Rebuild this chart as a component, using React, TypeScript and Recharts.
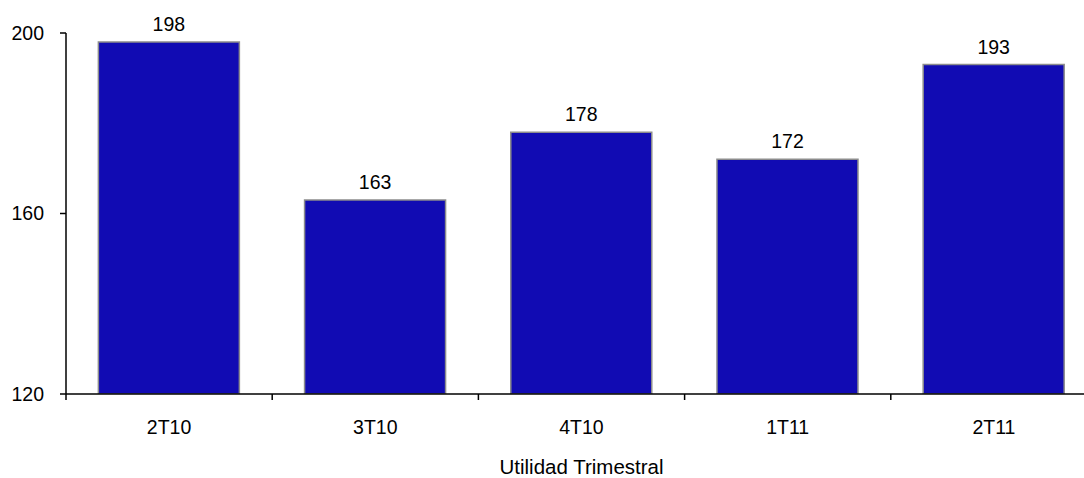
import { BarChart, Bar, XAxis, YAxis, LabelList } from "recharts";

// ---------------------------------------------------------------------------
// Data
// ---------------------------------------------------------------------------

const QUARTERS = ["2T10", "3T10", "4T10", "1T11", "2T11"];
const UTILIDAD = [198, 163, 178, 172, 193];
const Y_TICKS = [120, 160, 200];
const X_TITLE = "Utilidad Trimestral";

// ---------------------------------------------------------------------------
// Layout
// ---------------------------------------------------------------------------

const CHART_W = 1097;
const CHART_H = 478;
const Y_AXIS_W = 66;
const X_AXIS_H = 84;
const TICK_SIZE = 6;
const X_TICK_MARGIN = 20;
const FONT = '"Liberation Sans", Arial, sans-serif';
const FONT_SIZE = 19.5;

const data = QUARTERS.map((q, i) => ({ quarter: q, value: UTILIDAD[i] }));

// Category label centred in the band, tick mark at the band's left edge
function CategoryTick(props: any) {
  const { x, y, payload, index } = props;
  const band = (CHART_W - Y_AXIS_W) / QUARTERS.length;
  const axisY = y - TICK_SIZE - X_TICK_MARGIN;
  const left = x - band / 2;
  return (
    <g>
      <line x1={left} x2={left} y1={axisY} y2={axisY + TICK_SIZE} stroke="#000" strokeWidth={1.5} />
      {index === QUARTERS.length - 1 && (
        <line
          x1={x + band / 2}
          x2={x + band / 2}
          y1={axisY}
          y2={axisY + TICK_SIZE}
          stroke="#000"
          strokeWidth={1.5}
        />
      )}
      <text
        x={x}
        y={y}
        dy="0.71em"
        textAnchor="middle"
        fill="#000"
        fontSize={FONT_SIZE}
        fontFamily={FONT}
      >
        {payload.value}
      </text>
    </g>
  );
}

export default function App() {
  return (
    <div
      style={{
        position: "absolute",
        left: 0,
        top: 0,
        width: 1084,
        height: 478,
        overflow: "hidden",
        background: "#fff",
      }}
    >
      <BarChart
        width={CHART_W}
        height={CHART_H}
        data={data}
        margin={{ top: 33, right: 0, left: 0, bottom: 0 }}
        barCategoryGap="15.7%"
      >
        <XAxis
          dataKey="quarter"
          height={X_AXIS_H}
          tickLine={false}
          tickSize={TICK_SIZE}
          tickMargin={X_TICK_MARGIN}
          axisLine={{ stroke: "#000", strokeWidth: 1.5 }}
          tick={<CategoryTick />}
          interval={0}
          label={{
            value: X_TITLE,
            position: "insideBottom",
            offset: 4,
            fill: "#000",
            fontSize: 20.5,
            fontFamily: FONT,
          }}
        />
        <YAxis
          width={Y_AXIS_W}
          domain={[120, 200]}
          ticks={Y_TICKS}
          allowDataOverflow
          tickSize={TICK_SIZE}
          tickMargin={16}
          tickLine={{ stroke: "#000", strokeWidth: 1.5 }}
          axisLine={{ stroke: "#000", strokeWidth: 1.5 }}
          tick={{ fill: "#000", fontSize: FONT_SIZE, fontFamily: FONT }}
        />
        <Bar
          dataKey="value"
          fill="#110BB3"
          stroke="#8c8c8c"
          strokeWidth={1.5}
          isAnimationActive={false}
        >
          <LabelList
            dataKey="value"
            position="top"
            offset={11}
            fill="#000"
            fontSize={FONT_SIZE}
            fontFamily={FONT}
          />
        </Bar>
      </BarChart>
    </div>
  );
}
